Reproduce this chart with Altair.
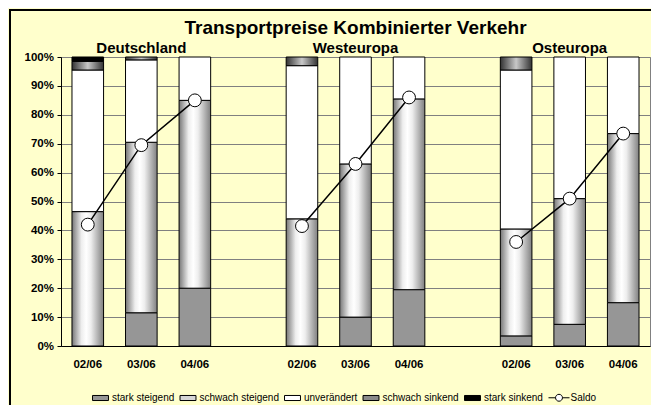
import altair as alt
import pandas as pd

ZW = "\u200b"  # zero-width space keeps the repeated period labels unique

# ---- data ----
periods = ["02/06", "03/06", "04/06"]
slots = (periods + [ZW * 3]
         + [p + ZW for p in periods] + [ZW * 4]
         + [p + ZW * 2 for p in periods])
bar_slots = periods + [p + ZW for p in periods] + [p + ZW * 2 for p in periods]
groups = ["Deutschland"] * 3 + ["Westeuropa"] * 3 + ["Osteuropa"] * 3

series_names = ["stark steigend", "schwach steigend", "unverändert",
                "schwach sinkend", "stark sinkend"]
stark_steigend = [0, 11.5, 20, 0, 10, 19.5, 3.5, 7.5, 15]
schwach_steigend = [46.5, 59, 65, 44, 53, 66, 37, 43.5, 58.5]
unveraendert = [49, 28.5, 15, 53, 37, 14.5, 55, 49, 26.5]
schwach_sinkend = [3, 1, 0, 3, 0, 0, 4.5, 0, 0]
stark_sinkend = [1.5, 0, 0, 0, 0, 0, 0, 0, 0]
saldo = [42, 69.5, 85, 41.5, 63, 86, 36, 51, 73.5]

group_titles = ["Deutschland", "Westeuropa", "Osteuropa"]
group_title_slots = [bar_slots[1], bar_slots[4], bar_slots[7]]
chart_title = "Transportpreise Kombinierter Verkehr"
legend_names = series_names + ["Saldo"]

FONT = "Liberation Sans, Arial, sans-serif"

rows = []
all_series = [stark_steigend, schwach_steigend, unveraendert, schwach_sinkend, stark_sinkend]
for i, slot in enumerate(bar_slots):
    base = 0.0
    for name, vals in zip(series_names, all_series):
        v = vals[i]
        if v > 0:
            rows.append({"slot": slot, "series": name, "lo": base / 100, "hi": (base + v) / 100})
        base += v
bars = pd.DataFrame(rows)

line_df = pd.DataFrame({"slot": bar_slots, "group": groups, "saldo": [s / 100 for s in saldo]})
titles_df = pd.DataFrame({"slot": group_title_slots, "label": group_titles, "pos": [1.0] * 3})
main_title_df = pd.DataFrame({"slot": [bar_slots[4]], "label": [chart_title], "pos": [1.0]})
legend_df = pd.DataFrame({"series": legend_names})
frame_df = pd.DataFrame({"k": [0]})

x_enc = alt.X(
    "slot:N",
    scale=alt.Scale(domain=slots, paddingInner=0.41, paddingOuter=0.205),
    axis=alt.Axis(
        title=None, labelAngle=0, ticks=False, values=bar_slots,
        labelFont=FONT, labelFontSize=11.5, labelFontWeight="bold", labelColor="black",
        labelPadding=12, domainColor="black",
    ),
)
y_axis = alt.Axis(
    title=None, format=".0%", values=[0, 0.1, 0.2, 0.3, 0.4, 0.5, 0.6, 0.7, 0.8, 0.9, 1],
    tickSize=4, labelFont=FONT, labelFontSize=11.5, labelFontWeight="bold",
    labelColor="black", labelPadding=3.5, domainColor="black", tickColor="black",
    gridColor="#808080",
)
y_scale = alt.Scale(domain=[0, 1], nice=False)


def grad(stops):
    return alt.LinearGradient(
        gradient="linear", x1=0, x2=1, y1=0, y2=0,
        stops=[alt.GradientStop(color=c, offset=o) for o, c in stops],
    )


fills = {
    "stark steigend": "#969696",
    "schwach steigend": grad([(0, "#777777"), (0.3, "#eeeeee"), (0.45, "#ffffff"),
                              (0.6, "#eeeeee"), (1, "#808080")]),
    "unverändert": "#ffffff",
    "schwach sinkend": grad([(0, "#333333"), (0.5, "#c8c8c8"), (1, "#333333")]),
    "stark sinkend": "#000000",
}

layers = []
# decorative outer frame of the whole chart
layers.append(
    alt.Chart(frame_df).mark_rect(fillOpacity=0, stroke="black", strokeWidth=2).encode(
        x=alt.value(-51), x2=alt.value(700), y=alt.value(-47), y2=alt.value(420)
    )
)
for name in series_names:
    layers.append(
        alt.Chart(bars).transform_filter(alt.datum.series == name)
        .mark_bar(fill=fills[name], stroke="black", strokeWidth=1)
        .encode(
            x=x_enc,
            y=alt.Y("lo:Q", scale=y_scale, axis=y_axis),
            y2=alt.Y2("hi:Q"),
        )
    )

layers.append(
    alt.Chart(line_df).mark_line(color="black", strokeWidth=1.5).encode(
        x=x_enc, y=alt.Y("saldo:Q", scale=y_scale, axis=y_axis), detail="group:N"
    )
)
layers.append(
    alt.Chart(line_df).mark_point(shape="circle", size=165, filled=True, fill="white",
                                  stroke="black", strokeWidth=1, opacity=1).encode(
        x=x_enc, y=alt.Y("saldo:Q", scale=y_scale, axis=y_axis)
    )
)
layers.append(
    alt.Chart(titles_df).mark_text(font=FONT, fontSize=15, fontWeight="bold",
                                  baseline="alphabetic", dy=-4, color="black").encode(
        x=x_enc, y=alt.Y("pos:Q", scale=y_scale, axis=y_axis), text="label:N"
    )
)
layers.append(
    alt.Chart(main_title_df).mark_text(font=FONT, fontSize=19, fontWeight="bold",
                                      baseline="alphabetic", dy=-23, color="black").encode(
        x=x_enc, y=alt.Y("pos:Q", scale=y_scale, axis=y_axis), text="label:N"
    )
)

# legend-only layer (its data is filtered away, only the legend remains)
rect_path = "M-0.76,-0.24H0.76V0.24H-0.76Z"
saldo_path = ("M-1,0H-0.33M0.33,0H1M0.33,0A0.33,0.33,0,1,1,-0.33,0"
              "A0.33,0.33,0,1,1,0.33,0")
leg = alt.Legend(
    title=None, orient="none", legendX=28.5, legendY=329.5, direction="horizontal",
    symbolSize=441, symbolStrokeWidth=1, labelFont=FONT, labelFontSize=10,
    labelColor="black", labelOffset=0.5, columnPadding=2.5, padding=0,
)
layers.append(
    alt.Chart(legend_df).transform_filter("datum.series == 'none'")
    .mark_point(filled=True, opacity=1, strokeWidth=1)
    .encode(
        fill=alt.Fill("series:N", scale=alt.Scale(
            domain=legend_names,
            range=["#969696", "#d6d6d6", "#ffffff", "#8a8a8a", "#000000", "#ffffff"]),
            legend=leg),
        shape=alt.Shape("series:N", scale=alt.Scale(
            domain=legend_names, range=[rect_path] * 5 + [saldo_path]), legend=leg),
        stroke=alt.Stroke("series:N", scale=alt.Scale(
            domain=legend_names, range=["#000000"] * 6), legend=leg),
    )
)

chart = alt.layer(*layers).properties(
    width=589, height=289,
    autosize=alt.AutoSizeParams(type="none"),
    padding={"left": 53, "top": 49, "right": 1, "bottom": 59},
    background="#FFFFCC",
).configure_view(stroke="#808080", fill="white")

chart.save("out.html", embed_options={"renderer": "svg", "actions": False})
